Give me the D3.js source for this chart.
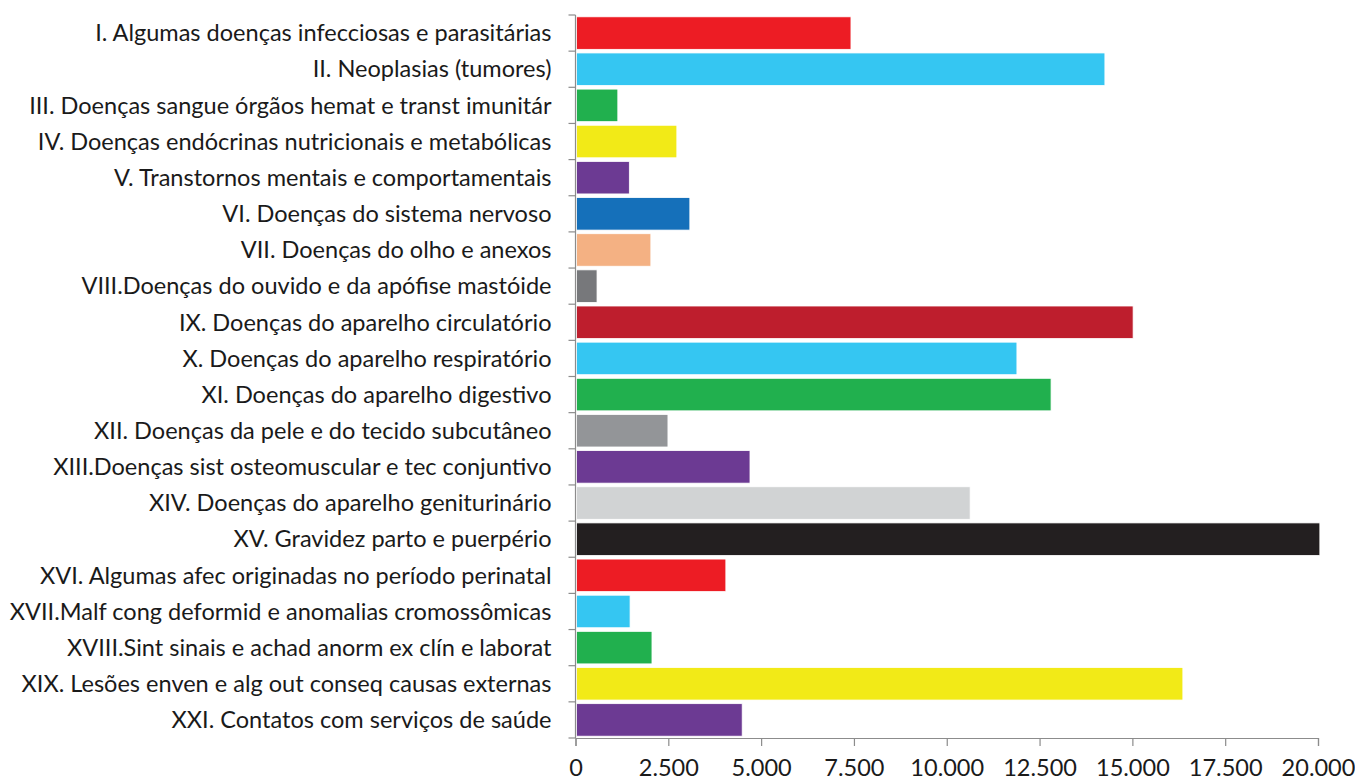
<!DOCTYPE html>
<html><head><meta charset="utf-8">
<script src="https://cdn.jsdelivr.net/npm/d3@7"></script>
<style>body{margin:0;background:#fff}svg{display:block}</style>
</head><body>
<svg id="c" width="1355" height="782"></svg>
<script>
const categories = [
  "I. Algumas doenças infecciosas e parasitárias",
  "II. Neoplasias (tumores)",
  "III. Doenças sangue órgãos hemat e transt imunitár",
  "IV. Doenças endócrinas nutricionais e metabólicas",
  "V. Transtornos mentais e comportamentais",
  "VI. Doenças do sistema nervoso",
  "VII. Doenças do olho e anexos",
  "VIII.Doenças do ouvido e da apófise mastóide",
  "IX. Doenças do aparelho circulatório",
  "X. Doenças do aparelho respiratório",
  "XI. Doenças do aparelho digestivo",
  "XII. Doenças da pele e do tecido subcutâneo",
  "XIII.Doenças sist osteomuscular e tec conjuntivo",
  "XIV. Doenças do aparelho geniturinário",
  "XV. Gravidez parto e puerpério",
  "XVI. Algumas afec originadas no período perinatal",
  "XVII.Malf cong deformid e anomalias cromossômicas",
  "XVIII.Sint sinais e achad anorm ex clín e laborat",
  "XIX. Lesões enven e alg out conseq causas externas",
  "XXI. Contatos com serviços de saúde"
];
const values = [7420, 14260, 1140, 2730, 1450, 3080, 2030, 580, 15020, 11890,
                12810, 2490, 4700, 10630, 20050, 4050, 1470, 2060, 16360, 4490];
const colors = ["#ED1C24", "#35C6F2", "#21B04E", "#F2EA17", "#6C3A93", "#1570BA",
                "#F4B183", "#77787B", "#BE1E2D", "#35C6F2", "#21B04E", "#939598",
                "#6C3A93", "#D1D3D4", "#231F20", "#ED1C24", "#35C6F2", "#21B04E",
                "#F2EA17", "#6C3A93"];
const xTicks = [0, 2500, 5000, 7500, 10000, 12500, 15000, 17500, 20000];
const xTickLabels = ["0", "2.500", "5.000", "7.500", "10.000", "12.500", "15.000", "17.500", "20.000"];

const svg = d3.select("#c");
const m = {left: 575.5, right: 1318, top: 15, bottom: 738};
const x = d3.scaleLinear().domain([0, 20000]).range([m.left, m.right]);
const y = d3.scaleBand().domain(categories).range([m.top, m.bottom]).paddingInner(0.1).paddingOuter(0.05);
const font = "Lato, 'Open Sans', sans-serif";
const axisColor = "#8c8c8c";

// bars
svg.append("g").selectAll("rect").data(values).join("rect")
  .attr("x", x(0) + 1)
  .attr("y", (d, i) => y(categories[i]))
  .attr("width", d => x(d) - x(0) - 1)
  .attr("height", y.bandwidth())
  .attr("fill", (d, i) => colors[i])
  .attr("stroke", "#fff").attr("stroke-width", 0.8);

// y axis: line + tick marks at band boundaries
const yg = svg.append("g");
yg.append("line").attr("x1", x(0)).attr("x2", x(0)).attr("y1", m.top).attr("y2", m.bottom)
  .attr("stroke", axisColor).attr("stroke-width", 1.2);
const step = (m.bottom - m.top) / categories.length;
const bounds = d3.range(categories.length + 1).map(i => m.top + i * step);
yg.selectAll("line.t").data(bounds).join("line").attr("class", "t")
  .attr("x1", x(0) - 7).attr("x2", x(0)).attr("y1", d => d).attr("y2", d => d)
  .attr("stroke", axisColor).attr("stroke-width", 1.2);

// y labels
const lab = yg.selectAll("text").data(categories).join("text")
  .attr("x", x(0) - 24)
  .attr("y", d => y(d) + y.bandwidth() / 2)
  .attr("dy", "0.35em")
  .attr("text-anchor", "end")
  .attr("font-family", font)
  .attr("font-size", 20)
  .attr("fill", "#1a1a1a")
  .text(d => d);
// fit font so longest label spans about 542px
let maxW = 0;
lab.each(function(){ maxW = Math.max(maxW, this.getComputedTextLength()); });
const fs = Math.min(24, 20 * 542 / maxW);
lab.attr("font-size", fs);

// x axis
const xAxis = d3.axisBottom(x).tickValues(xTicks).tickFormat((d, i) => xTickLabels[i]).tickSize(8).tickPadding(13);
const xg = svg.append("g").attr("transform", `translate(0,${m.bottom})`).call(xAxis);
xg.select(".domain").attr("stroke", axisColor).attr("stroke-width", 1.2);
xg.selectAll(".tick line").attr("stroke", axisColor).attr("stroke-width", 1.2);
xg.selectAll(".tick text").attr("font-family", font).attr("font-size", fs).attr("fill", "#1a1a1a");
</script>
</body></html>
